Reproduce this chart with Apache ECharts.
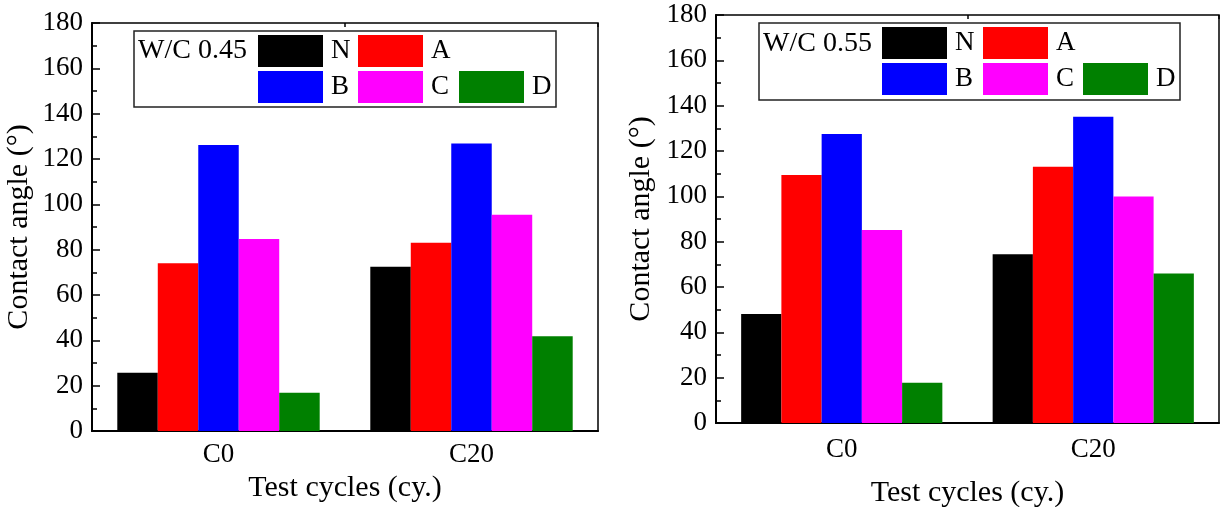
<!DOCTYPE html>
<html>
<head>
<meta charset="utf-8">
<script src="https://cdn.jsdelivr.net/npm/echarts@6/dist/echarts.min.js"></script>
<style>
html,body{margin:0;padding:0;background:#fff;}
#chart{width:1224px;height:507px;}
</style>
</head>
<body>
<div id="chart"></div>
<script>
const categories = ['C0', 'C20'];
const seriesNames = ['N', 'A', 'B', 'C', 'D'];
const seriesColors = ['#000000', '#ff0000', '#0000ff', '#ff00ff', '#008000'];
// W/C 0.45 (left panel)
const left_N = [25.7, 72.5];
const left_A = [74.0, 83.1];
const left_B = [126.2, 126.8];
const left_C = [84.7, 95.4];
const left_D = [16.9, 41.8];
// W/C 0.55 (right panel)
const right_N = [48.1, 74.4];
const right_A = [109.4, 113.1];
const right_B = [127.5, 135.1];
const right_C = [85.1, 99.9];
const right_D = [17.8, 66.0];
const panelTitles = ['W/C 0.45', 'W/C 0.55'];
const yTitle = 'Contact angle (°)';
const xTitle = 'Test cycles (cy.)';

const leftData = [left_N, left_A, left_B, left_C, left_D];
const rightData = [right_N, right_A, right_B, right_C, right_D];

const FONT = 'Liberation Serif';
const FS = 27;
const TFS = 30;

const grids = [
  {left: 92, top: 23, width: 506, height: 408},
  {left: 716, top: 15, width: 503, height: 408}
];

function xMain(gi, margin, nameGap) {
  return {
    type: 'category', gridIndex: gi, data: categories,
    axisLine: {show: true, lineStyle: {color: '#000', width: 2}},
    axisTick: {show: true, inside: true, alignWithLabel: true, length: 7, lineStyle: {color: '#000', width: 2}},
    axisLabel: {color: '#000', fontFamily: FONT, fontSize: FS, margin: margin},
    name: xTitle, nameLocation: 'middle', nameGap: nameGap,
    nameTextStyle: {color: '#000', fontFamily: FONT, fontSize: TFS}
  };
}
function xBoundary(gi) {
  return {
    type: 'category', gridIndex: gi, data: categories,
    axisLine: {show: false},
    axisTick: {show: true, inside: true, alignWithLabel: false, length: 4, lineStyle: {color: '#000', width: 1.5}},
    axisLabel: {show: false}
  };
}
function yAxisDef(gi, nameGap) {
  return {
    type: 'value', gridIndex: gi, min: 0, max: 180, interval: 20,
    axisLine: {show: true, lineStyle: {color: '#000', width: 2}},
    axisTick: {show: true, inside: true, length: 8, lineStyle: {color: '#000', width: 1.5}},
    minorTick: {show: true, splitNumber: 2, length: 5, lineStyle: {color: '#000', width: 1.5}},
    splitLine: {show: false},
    axisLabel: {color: '#000', fontFamily: FONT, fontSize: FS, margin: 9},
    name: yTitle, nameLocation: 'middle', nameGap: nameGap,
    nameTextStyle: {color: '#000', fontFamily: FONT, fontSize: TFS}
  };
}

const series = [];
[leftData, rightData].forEach((panel, gi) => {
  panel.forEach((vals, si) => {
    series.push({
      name: seriesNames[si], type: 'bar',
      xAxisIndex: gi * 2, yAxisIndex: gi,
      data: vals, barGap: '0%', barCategoryGap: '20%',
      itemStyle: {color: seriesColors[si]},
      emphasis: {disabled: true}
    });
  });
});

// legend positions: [gridIndex, seriesIndex, left, top]
const legendPos = [
  [0, 0, 258, 35], [0, 1, 358, 35], [0, 2, 258, 71], [0, 3, 358, 71], [0, 4, 459, 71],
  [1, 0, 882, 27], [1, 1, 983, 27], [1, 2, 882, 63], [1, 3, 983, 63], [1, 4, 1083, 63]
];
const legends = legendPos.map(p => ({
  data: [seriesNames[p[1]]], left: p[2], top: p[3], padding: 0,
  itemWidth: 65, itemHeight: 32, icon: 'rect', selectedMode: false,
  itemStyle: {borderWidth: 0},
  textStyle: {color: '#000', fontFamily: FONT, fontSize: FS, padding: [2, 0, 0, 3]}
}));

const graphics = [
  {type: 'rect', shape: {x: 134, y: 31, width: 422, height: 76}, style: {fill: 'none', stroke: '#222', lineWidth: 1.5}, z: 10},
  {type: 'text', x: 138, y: 51, style: {text: panelTitles[0], fill: '#000', font: '28px "' + FONT + '"', verticalAlign: 'middle'}, z: 10},
  {type: 'rect', shape: {x: 759, y: 23, width: 421, height: 77}, style: {fill: 'none', stroke: '#222', lineWidth: 1.5}, z: 10},
  {type: 'text', x: 763, y: 44, style: {text: panelTitles[1], fill: '#000', font: '28px "' + FONT + '"', verticalAlign: 'middle'}, z: 10}
];

const chart = echarts.init(document.getElementById('chart'), null, {renderer: 'canvas'});
chart.setOption({
  backgroundColor: '#fff',
  animation: false,
  grid: grids.map(g => Object.assign({show: true, borderColor: '#000', borderWidth: 1.5, backgroundColor: 'transparent', containLabel: false, outerBoundsMode: 'none'}, g)),
  xAxis: [xMain(0, 10, 40), xBoundary(0), xMain(1, 13, 55), xBoundary(1)],
  yAxis: [yAxisDef(0, 58), yAxisDef(1, 60)],
  legend: legends,
  graphic: graphics,
  series: series
});
</script>
</body>
</html>
